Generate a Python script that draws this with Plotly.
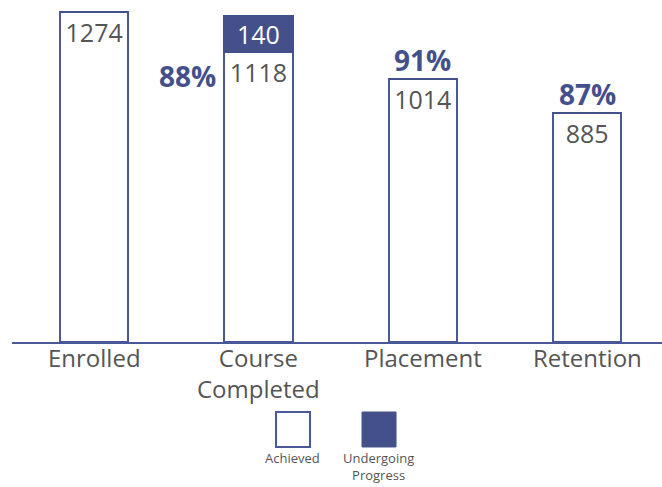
import plotly.graph_objects as go

# Funnel stages and counts
stages = ["Enrolled", "Course<br>Completed", "Placement", "Retention"]
achieved = [1274, 1118, 1014, 885]
undergoing = [0, 140, 0, 0]

NAVY = "#44508a"
EDGE = "#4a5898"
GREY = "#555555"
FONT = "Open Sans, DejaVu Sans, sans-serif"

fig = go.Figure()

fig.add_trace(go.Bar(
    x=stages, y=achieved, name="Achieved",
    marker=dict(color="white", line=dict(color=EDGE, width=2)),
    width=0.417,
    text=[str(v) for v in achieved], textposition="inside",
    insidetextanchor="end", textangle=0,
    textfont=dict(size=25, color=GREY, family=FONT),
    cliponaxis=False,
))
fig.add_trace(go.Bar(
    x=stages, y=undergoing, name="Undergoing Progress",
    marker=dict(color=NAVY, line=dict(color=NAVY, width=2)),
    width=0.417,
    text=[str(v) if v else "" for v in undergoing], textposition="inside",
    insidetextanchor="middle", textangle=0,
    textfont=dict(size=25, color="white", family=FONT),
    cliponaxis=False,
))

# Stage-to-stage conversion rates
pct_font = dict(size=28, color=NAVY, family=FONT, weight="bold")
for i in range(1, len(stages)):
    rate = round(100 * achieved[i] / achieved[i - 1])
    if i == 1:
        fig.add_annotation(x=stages[i], y=achieved[i], text=f"{rate}%",
                           xanchor="right", yanchor="middle", xshift=-40, yshift=-24,
                           showarrow=False, font=pct_font)
    else:
        fig.add_annotation(x=stages[i], y=achieved[i], text=f"{rate}%",
                           xanchor="center", yanchor="bottom", yshift=-2,
                           showarrow=False, font=pct_font)

# Category labels under the axis
for s in stages:
    fig.add_annotation(x=s, y=0, text=s, showarrow=False,
                       xanchor="center", yanchor="top", yshift=3,
                       font=dict(size=24, color=GREY, family=FONT))

# Custom legend: swatches with captions beneath
fig.add_shape(type="rect", xref="paper", yref="paper",
              x0=0.4062, x1=0.4585, y0=-0.307, y1=-0.2047,
              fillcolor="white", line=dict(color=EDGE, width=2))
fig.add_shape(type="rect", xref="paper", yref="paper",
              x0=0.5385, x1=0.5908, y0=-0.307, y1=-0.2047,
              fillcolor=NAVY, line=dict(color=NAVY, width=1))
fig.add_annotation(xref="paper", yref="paper", x=0.4323, y=-0.308,
                   text="Achieved", showarrow=False, xanchor="center", yanchor="top",
                   font=dict(size=13, color=GREY, family=FONT))
fig.add_annotation(xref="paper", yref="paper", x=0.5646, y=-0.308,
                   text="Undergoing<br>Progress", showarrow=False, xanchor="center",
                   yanchor="top", font=dict(size=13, color=GREY, family=FONT))

fig.update_layout(
    width=662, height=487,
    margin=dict(l=12, r=0, t=0, b=145),
    barmode="stack", bargap=0.58,
    showlegend=False,
    plot_bgcolor="white", paper_bgcolor="white",
    font=dict(family=FONT, color=GREY),
    uniformtext=dict(minsize=25, mode="show"),
)
fig.update_xaxes(range=[-0.5, 3.456], showline=True, linecolor=EDGE, linewidth=2,
                 ticks="", showgrid=False, showticklabels=False)
fig.update_yaxes(range=[0, 1320], visible=False, showgrid=False, zeroline=False)

fig.write_html("out.html")
